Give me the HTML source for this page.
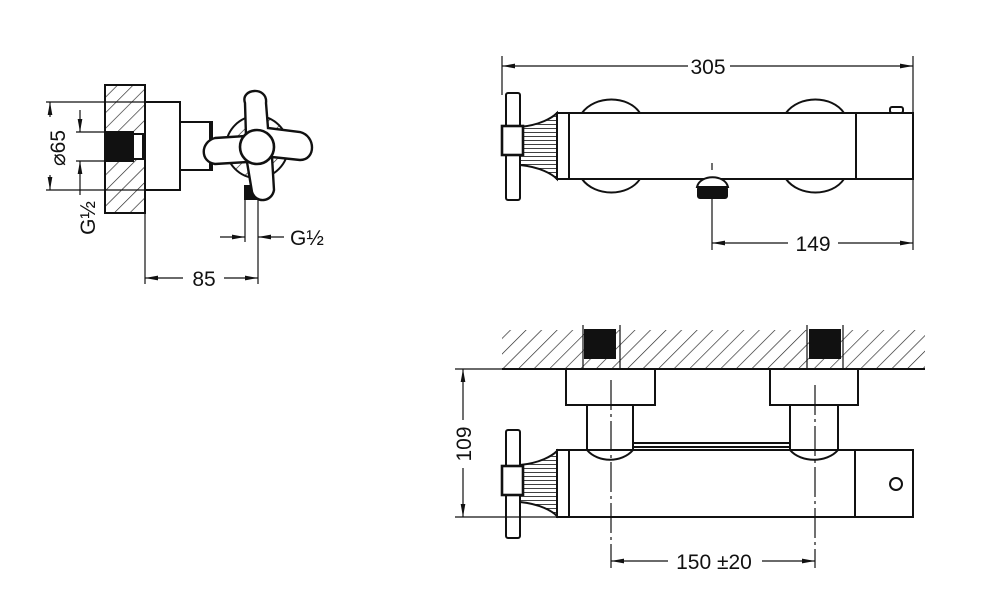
<!DOCTYPE html>
<html><head><meta charset="utf-8"><style>
html,body{margin:0;padding:0;background:#fff;}
svg{display:block;}
text{font-family:"Liberation Sans",sans-serif;font-size:21px;fill:#111;}
</style></head><body>
<svg width="1000" height="610" viewBox="0 0 1000 610" xmlns="http://www.w3.org/2000/svg">
<defs>
<pattern id="h" patternUnits="userSpaceOnUse" width="11" height="11" patternTransform="rotate(45)">
<rect width="11" height="11" fill="#fff"/><line x1="0" y1="0" x2="0" y2="11" stroke="#222" stroke-width="1.3"/>
</pattern>
<pattern id="f" patternUnits="userSpaceOnUse" width="4" height="4"><rect width="4" height="4" fill="#fff"/><line x1="0" y1="0" x2="4" y2="0" stroke="#111" stroke-width="1.6"/></pattern>
<marker id="a" viewBox="0 0 10 10" refX="10" refY="5" markerUnits="userSpaceOnUse" markerWidth="13" markerHeight="13" orient="auto-start-reverse"><path d="M0,3.2 L10,5 L0,6.8 z" fill="#111"/></marker>
</defs>
<g stroke="#111" stroke-width="2" fill="none">
<!-- LEFT VIEW -->
<rect x="105" y="85" width="40" height="128" fill="url(#h)" stroke="#111"/>
<rect x="106" y="132" width="27" height="29" fill="#111"/>
<rect x="133" y="134" width="10" height="25" fill="#fff"/>
<rect x="145" y="102" width="35" height="88" fill="#fff"/>
<rect x="180" y="122" width="32" height="48" fill="#fff"/>
<line x1="210" y1="122" x2="210" y2="170"/>
<circle cx="257" cy="147" r="31" fill="url(#h)"/>
<rect x="245" y="186" width="11" height="13" fill="#111"/>
<path d="M245,103 C240,88 268,86 266,103 L268,128 L300,132 C316,136 316,160 300,160 L272,157 L274,190 C272,202 256,204 252,192 L247,162 L215,164 C200,162 200,142 215,138 L246,136 Z" fill="#fff" stroke-width="2.4"/>
<circle cx="257" cy="147" r="17" fill="#fff" stroke-width="2.6"/>
<!-- left dims -->
<g stroke-width="1.2">
<line x1="46" y1="102" x2="145" y2="102"/>
<line x1="46" y1="190" x2="145" y2="190"/>
<line x1="50" y1="117" x2="50" y2="102" marker-end="url(#a)"/>
<line x1="50" y1="175" x2="50" y2="190" marker-end="url(#a)"/>
<line x1="76" y1="132" x2="106" y2="132"/>
<line x1="76" y1="161" x2="106" y2="161"/>
<line x1="80" y1="110" x2="80" y2="132" marker-end="url(#a)"/>
<line x1="80" y1="195" x2="80" y2="161" marker-end="url(#a)"/>
<line x1="145" y1="190" x2="145" y2="284"/>
<line x1="258" y1="199" x2="258" y2="284"/>
<line x1="245" y1="199" x2="245" y2="242"/>
<line x1="183" y1="278" x2="145" y2="278" marker-end="url(#a)"/>
<line x1="224" y1="278" x2="258" y2="278" marker-end="url(#a)"/>
<line x1="220" y1="237" x2="245" y2="237" marker-end="url(#a)"/>
<line x1="284" y1="237" x2="258" y2="237" marker-end="url(#a)"/>
</g>
<!-- TOP RIGHT -->
<g stroke-width="1.2">
<line x1="502" y1="56" x2="502" y2="95"/>
<line x1="913" y1="56" x2="913" y2="250"/>
<line x1="688" y1="66" x2="502" y2="66" marker-end="url(#a)"/>
<line x1="730" y1="66" x2="913" y2="66" marker-end="url(#a)"/>
</g>
<path d="M582,113 C595,95 628,95 640,113" fill="#fff"/>
<path d="M786,113 C799,95 832,95 844,113" fill="#fff"/>
<path d="M582,179 C595,197 628,197 640,179" fill="#fff"/>
<path d="M786,179 C799,197 832,197 844,179" fill="#fff"/>
<rect x="557" y="113" width="356" height="66" fill="#fff"/>
<line x1="569" y1="113" x2="569" y2="179"/>
<line x1="856" y1="113" x2="856" y2="179"/>
<rect x="890" y="107" width="13" height="6" rx="2" fill="#fff"/>
<path d="M520,127 C540,125 552,118 557,113 L557,179 C552,174 540,167 520,165 Z" fill="url(#f)"/>
<rect x="506" y="93" width="14" height="107" rx="2" fill="#fff"/>
<rect x="502" y="126" width="21" height="29" fill="#fff" stroke-width="2.6"/>
<path d="M697,187 C700,174 725,174 728,187 Z" fill="#fff"/>
<rect x="698" y="187" width="29" height="11" rx="2" fill="#111"/>
<g stroke-width="1.2">
<line x1="712" y1="163" x2="712" y2="170"/>
<line x1="712" y1="198" x2="712" y2="250"/>
<line x1="788" y1="243" x2="712" y2="243" marker-end="url(#a)"/>
<line x1="838" y1="243" x2="913" y2="243" marker-end="url(#a)"/>
</g>
<!-- BOTTOM RIGHT -->
<rect x="502" y="330" width="423" height="39" fill="url(#h)" stroke="none"/>
<line x1="502" y1="369" x2="925" y2="369"/>
<rect x="585" y="330" width="30" height="28" fill="#111"/>
<rect x="810" y="330" width="30" height="28" fill="#111"/>
<g stroke-width="1.2">
<line x1="583" y1="325" x2="583" y2="369"/>
<line x1="620" y1="325" x2="620" y2="369"/>
<line x1="807" y1="325" x2="807" y2="369"/>
<line x1="843" y1="325" x2="843" y2="369"/>
</g>
<rect x="566" y="369" width="89" height="36" fill="#fff"/>
<rect x="770" y="369" width="88" height="36" fill="#fff"/>
<rect x="587" y="405" width="46" height="45" fill="#fff"/>
<rect x="790" y="405" width="48" height="45" fill="#fff"/>
<rect x="557" y="450" width="356" height="67" fill="#fff"/>
<line x1="633" y1="443" x2="790" y2="443"/>
<line x1="633" y1="447" x2="790" y2="447"/>
<path d="M587,450 C598,463 622,463 633,450" />
<path d="M790,450 C801,463 827,463 838,450" />
<line x1="569" y1="450" x2="569" y2="517"/>
<line x1="855" y1="450" x2="855" y2="517"/>
<circle cx="896" cy="484" r="6"/>
<path d="M520,465 C540,463 552,456 557,451 L557,516 C552,511 540,504 520,502 Z" fill="url(#f)"/>
<rect x="506" y="430" width="14" height="108" rx="2" fill="#fff"/>
<rect x="502" y="466" width="21" height="29" fill="#fff" stroke-width="2.6"/>
<g stroke-width="1.2">
<line x1="611" y1="380" x2="611" y2="568" stroke-dasharray="30,4,3,4"/>
<line x1="815" y1="385" x2="815" y2="568" stroke-dasharray="30,4,3,4"/>
<line x1="668" y1="561" x2="611" y2="561" marker-end="url(#a)"/>
<line x1="762" y1="561" x2="815" y2="561" marker-end="url(#a)"/>
<line x1="455" y1="369" x2="502" y2="369"/>
<line x1="455" y1="517" x2="569" y2="517"/>
<line x1="463" y1="420" x2="463" y2="369" marker-end="url(#a)"/>
<line x1="463" y1="468" x2="463" y2="517" marker-end="url(#a)"/>
</g>
</g>
<text x="204" y="286" text-anchor="middle">85</text>
<text x="290" y="245">G½</text>
<text transform="translate(65,148) rotate(-90)" text-anchor="middle">⌀65</text>
<text transform="translate(95,218) rotate(-90)" text-anchor="middle">G½</text>
<text x="708" y="74" text-anchor="middle">305</text>
<text x="813" y="251" text-anchor="middle">149</text>
<text x="714" y="569" text-anchor="middle">150 ±20</text>
<text transform="translate(471,444) rotate(-90)" text-anchor="middle">109</text>
</svg>
</body></html>
